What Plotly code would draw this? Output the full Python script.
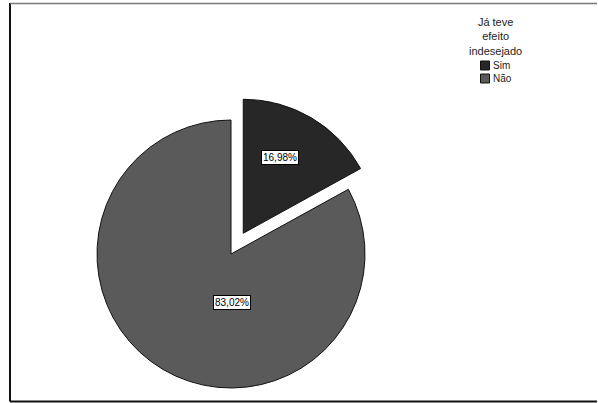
import math
import plotly.graph_objects as go

# ---- data ----
categories = ["Sim", "Não"]
percentages = [16.98, 83.02]
colors = ["#272727", "#5a5a5a"]
legend_title = "Já teve<br>efeito<br>indesejado"
pulled = [True, False]  # Sim slice is exploded

W, H = 598, 403
R = 134            # pie radius (px)
CX, CY = 231, 254  # centre of the un-pulled pie (px)
PULL = 0.18        # pull as a fraction of the radius


def px(x):
    return x / W


def py(y):
    return 1 - y / H


def domain_for(cx, cy, r):
    return dict(x=[px(cx - r), px(cx + r)], y=[py(cy + r), py(cy - r)])


fig = go.Figure()

# angle of each slice's bisector (clockwise from 12 o'clock)
total = sum(percentages)
start = 0.0
bisectors = []
for v in percentages:
    span = v / total * 360
    bisectors.append(start + span / 2)
    start += span

# one pie trace per slice so the exploded slice can be offset freely
for i, cat in enumerate(categories):
    if pulled[i]:
        a = math.radians(bisectors[i])
        cx = CX + PULL * R * math.sin(a)
        cy = CY - PULL * R * math.cos(a)
    else:
        cx, cy = CX, CY
    fills = ["rgba(0,0,0,0)"] * len(categories)
    lines = ["rgba(0,0,0,0)"] * len(categories)
    fills[i] = colors[i]
    lines[i] = "#111111"
    fig.add_trace(go.Pie(
        labels=categories, values=percentages, sort=False,
        direction="clockwise", rotation=0,
        marker=dict(colors=fills, line=dict(color=lines, width=1)),
        textinfo="none", hoverinfo="label+percent",
        domain=domain_for(cx, cy, R), showlegend=False,
    ))

FONT = "Liberation Sans, Arial"

# slice value labels
label_pos = [(280, 158), (231.7, 302)]
annotations = []
for v, (lx, ly) in zip(percentages, label_pos):
    annotations.append(dict(
        x=px(lx), y=py(ly), xref="paper", yref="paper",
        text=f"{v:.2f}%".replace(".", ","), showarrow=False,
        font=dict(family=FONT, size=10, color="black"),
        bgcolor="white", bordercolor="black", borderwidth=1, borderpad=1,
        xanchor="center", yanchor="middle",
    ))

# legend title
annotations.append(dict(
    x=px(495.5), y=py(37), xref="paper", yref="paper",
    text=legend_title, showarrow=False,
    font=dict(family=FONT, size=11, color="#222222"),
    xanchor="center", yanchor="middle", align="center",
))

shapes = [
    dict(type="line", xref="paper", yref="paper", x0=px(10), x1=px(10),
         y0=py(3), y1=py(401.5), line=dict(color="#111111", width=2)),
    dict(type="line", xref="paper", yref="paper", x0=px(10), x1=px(597),
         y0=py(3.5), y1=py(3.5), line=dict(color="#7a7a7a", width=1.5)),
    dict(type="line", xref="paper", yref="paper", x0=px(10), x1=px(597),
         y0=py(401.5), y1=py(401.5), line=dict(color="#111111", width=2)),
]

# legend entries (swatch + label)
for k, (cat, col) in enumerate(zip(categories, colors)):
    yc = 65.5 + k * 13
    shapes.append(dict(type="rect", xref="paper", yref="paper",
                       x0=px(480.5), x1=px(489.5), y0=py(yc + 4.5), y1=py(yc - 4.5),
                       fillcolor=col, line=dict(color="#111111", width=1)))
    annotations.append(dict(
        x=px(491.5), y=py(yc), xref="paper", yref="paper", text=cat,
        showarrow=False, font=dict(family=FONT, size=10, color="#222222"),
        xanchor="left", yanchor="middle",
    ))

fig.update_layout(
    width=W, height=H, margin=dict(l=0, r=0, t=0, b=0),
    paper_bgcolor="white", plot_bgcolor="white",
    showlegend=False,
    annotations=annotations, shapes=shapes,
)

fig.write_html(
    "out.html",
    config={"displayModeBar": False},
    post_script=(
        "document.documentElement.style.overflow='hidden';"
        "document.body.style.margin='0';"
        "document.body.style.overflow='hidden';"
    ),
)
